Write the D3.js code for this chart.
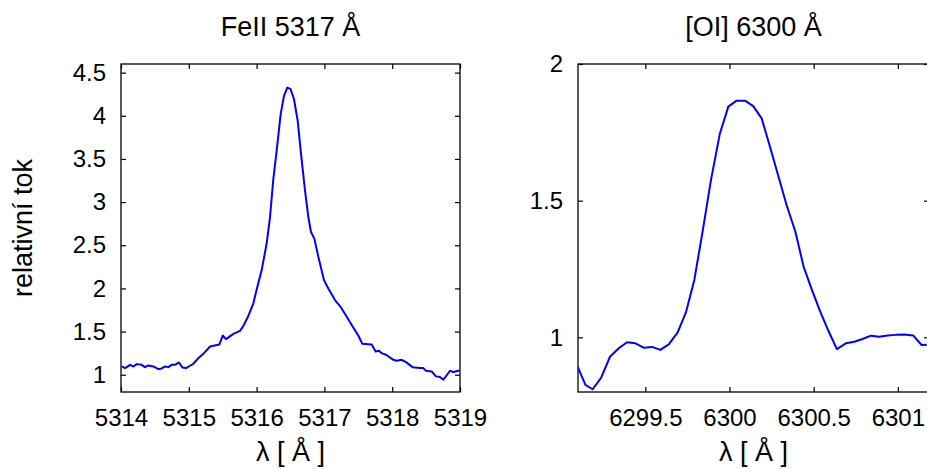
<!DOCTYPE html>
<html>
<head>
<meta charset="utf-8">
<script src="https://cdn.jsdelivr.net/npm/d3@7"></script>
<style>
  html, body { margin: 0; padding: 0; background: #fff; }
  svg { display: block; font-family: "Liberation Sans", Arial, Helvetica, sans-serif; }
</style>
</head>
<body>
<svg id="chart" width="927" height="469"></svg>
<script>
// Fe II 5317 Å line profile (wavelength in Å, relative flux)
const feWave = [5314.010, 5314.059, 5314.133, 5314.182, 5314.231, 5314.305, 5314.354, 5314.403, 5314.477, 5314.551,
  5314.600, 5314.649, 5314.698, 5314.747, 5314.796, 5314.855, 5314.905, 5314.959, 5315.018, 5315.067,
  5315.141, 5315.214, 5315.313, 5315.450, 5315.500, 5315.549, 5315.657, 5315.755, 5315.804, 5315.878,
  5315.952, 5316.001, 5316.075, 5316.148, 5316.198, 5316.247, 5316.296, 5316.355, 5316.404, 5316.453,
  5316.502, 5316.552, 5316.606, 5316.655, 5316.714, 5316.763, 5316.802, 5316.852, 5316.911, 5316.994,
  5317.058, 5317.156, 5317.230, 5317.314, 5317.412, 5317.500, 5317.559, 5317.697, 5317.756, 5317.805,
  5317.845, 5317.909, 5318.017, 5318.066, 5318.140, 5318.204, 5318.302, 5318.410, 5318.459, 5318.498,
  5318.582, 5318.646, 5318.705, 5318.754, 5318.853, 5318.902, 5318.990];
const feFlux = [1.096, 1.077, 1.115, 1.096, 1.123, 1.115, 1.088, 1.108, 1.096, 1.065,
  1.073, 1.096, 1.088, 1.115, 1.115, 1.142, 1.085, 1.077, 1.104, 1.127,
  1.192, 1.242, 1.327, 1.350, 1.454, 1.412, 1.473, 1.508, 1.565, 1.681,
  1.827, 1.988, 2.212, 2.519, 2.827, 3.269, 3.596, 4.019, 4.231, 4.327,
  4.308, 4.192, 3.942, 3.558, 3.135, 2.827, 2.654, 2.577, 2.365, 2.096,
  2.000, 1.865, 1.796, 1.692, 1.565, 1.454, 1.358, 1.350, 1.269, 1.277,
  1.250, 1.231, 1.173, 1.162, 1.173, 1.146, 1.088, 1.077, 1.077, 1.046,
  1.038, 0.981, 0.973, 0.942, 1.046, 1.031, 1.050];

// [O I] 6300 Å line profile
const oiWave = [6299.098, 6299.144, 6299.187, 6299.237, 6299.290, 6299.342, 6299.391, 6299.441, 6299.490, 6299.540,
  6299.589, 6299.639, 6299.692, 6299.741, 6299.791, 6299.840, 6299.890, 6299.943, 6299.993, 6300.042,
  6300.092, 6300.141, 6300.191, 6300.240, 6300.290, 6300.339, 6300.391, 6300.440, 6300.490, 6300.539,
  6300.588, 6300.638, 6300.691, 6300.741, 6300.790, 6300.840, 6300.889, 6300.939, 6300.988, 6301.038,
  6301.091, 6301.141, 6301.190];
const oiFlux = [0.893, 0.826, 0.810, 0.852, 0.929, 0.960, 0.982, 0.978, 0.962, 0.965,
  0.954, 0.974, 1.018, 1.091, 1.210, 1.387, 1.576, 1.746, 1.844, 1.866,
  1.866, 1.846, 1.801, 1.698, 1.590, 1.484, 1.387, 1.259, 1.173, 1.094,
  1.023, 0.957, 0.978, 0.984, 0.994, 1.006, 1.002, 1.007, 1.009, 1.010,
  1.007, 0.972, 0.973];

// Tick values and panel texts
const feXTicks = [5314, 5315, 5316, 5317, 5318, 5319];
const feYTicks = [1, 1.5, 2, 2.5, 3, 3.5, 4, 4.5];
const oiXTicks = [6299.5, 6300, 6300.5, 6301];
const oiYTicks = [1, 1.5, 2];
const panelTitles = ["FeII 5317 Å", "[OI] 6300 Å"];
const xLabel = "λ [ Å ]";
const yLabel = "relativní tok";

const svg = d3.select("#chart");
const TICK = 5;

function panel(cfg) {
  const { left, right, top, bottom, xDomain, yDomain, wave, flux, xTicks, yTicks, title, id } = cfg;
  const x = d3.scaleLinear().domain(xDomain).range([left, right]);
  const y = d3.scaleLinear().domain(yDomain).range([bottom, top]);
  const g = svg.append("g");

  const fmt = d => String(d);

  // bottom axis with labels
  g.append("g").attr("transform", `translate(0,${bottom})`)
    .call(d3.axisBottom(x).tickValues(xTicks).tickFormat(fmt).tickSizeInner(-TICK).tickSizeOuter(0).tickPadding(17));
  // top mirror ticks
  g.append("g").attr("transform", `translate(0,${top})`)
    .call(d3.axisTop(x).tickValues(xTicks).tickFormat("").tickSizeInner(-TICK).tickSizeOuter(0));
  // left axis with labels
  g.append("g").attr("transform", `translate(${left},0)`)
    .call(d3.axisLeft(y).tickValues(yTicks).tickFormat(fmt).tickSizeInner(-TICK).tickSizeOuter(0).tickPadding(15));
  // right mirror ticks
  g.append("g").attr("transform", `translate(${right},0)`)
    .call(d3.axisRight(y).tickValues(yTicks).tickFormat("").tickSizeInner(-TICK).tickSizeOuter(0));

  g.selectAll(".domain").remove();
  g.selectAll(".tick line").attr("stroke", "#000").attr("stroke-width", 1.2);
  g.selectAll(".tick text").attr("fill", "#000").style("font-size", "24px")
    .style("font-family", "'Liberation Sans', Arial, sans-serif");

  // frame
  g.append("rect")
    .attr("x", left).attr("y", top)
    .attr("width", right - left).attr("height", bottom - top)
    .attr("fill", "none").attr("stroke", "#000").attr("stroke-width", 1.3);

  // clip for the profile
  svg.append("clipPath").attr("id", id)
    .append("rect").attr("x", left).attr("y", top)
    .attr("width", right - left).attr("height", bottom - top);

  const pts = wave.map((w, i) => [w, flux[i]]);
  g.append("path")
    .datum(pts)
    .attr("clip-path", `url(#${id})`)
    .attr("fill", "none")
    .attr("stroke", "#0000ff")
    .attr("stroke-width", 2)
    .attr("stroke-linejoin", "round")
    .attr("d", d3.line().x(d => x(d[0])).y(d => y(d[1])));

  // title
  g.append("text")
    .attr("x", (left + right) / 2).attr("y", 36)
    .attr("text-anchor", "middle")
    .style("font-size", "27px")
    .text(title);

  // x label
  g.append("text")
    .attr("x", (left + right) / 2).attr("y", 461)
    .attr("text-anchor", "middle")
    .style("font-size", "27px")
    .text(xLabel);
}

panel({
  id: "clipFe", left: 121, right: 460, top: 64, bottom: 392,
  xDomain: [5314, 5319], yDomain: [0.8, 4.6],
  wave: feWave, flux: feFlux, xTicks: feXTicks, yTicks: feYTicks, title: panelTitles[0]
});

panel({
  id: "clipOI", left: 578, right: 929, top: 64, bottom: 392,
  xDomain: [6299.1, 6301.185], yDomain: [0.8, 2],
  wave: oiWave, flux: oiFlux, xTicks: oiXTicks, yTicks: oiYTicks, title: panelTitles[1]
});

// shared y label
svg.append("text")
  .attr("transform", "translate(31.5,228) rotate(-90)")
  .attr("text-anchor", "middle")
  .style("font-size", "27px")
  .text(yLabel);
</script>
</body>
</html>
